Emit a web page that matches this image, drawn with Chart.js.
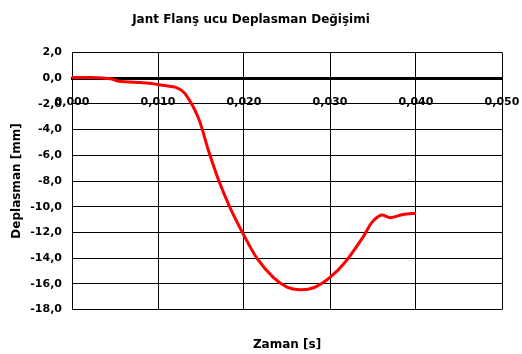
<!DOCTYPE html>
<html>
<head>
<meta charset="utf-8">
<script src="https://cdn.jsdelivr.net/npm/chart.js@4"></script>
<style>
  html, body { margin: 0; padding: 0; background: #fff; }
  #wrap { width: 522px; height: 354px; }
</style>
</head>
<body>
<div id="wrap"><canvas id="c" width="522" height="354"></canvas></div>
<script>
// values
const zaman = [0, 0.002, 0.0045, 0.0055, 0.008, 0.009, 0.010, 0.011, 0.012, 0.013, 0.0139, 0.0147, 0.0152, 0.0159, 0.0172, 0.0184, 0.0199, 0.0215, 0.0234, 0.025, 0.0265, 0.0281, 0.030, 0.0319, 0.0339, 0.0349, 0.0360, 0.0370, 0.0385, 0.040];
const deplasman = [0.05, 0.05, -0.05, -0.25, -0.35, -0.4, -0.5, -0.6, -0.7, -1.1, -2.0, -3.1, -4.1, -5.7, -8.2, -10.1, -12.1, -14.0, -15.5, -16.25, -16.45, -16.3, -15.5, -14.2, -12.3, -11.2, -10.65, -10.85, -10.6, -10.5];
const xTicks = [0, 0.01, 0.02, 0.03, 0.04, 0.05];
const yTicks = [2, 0, -2, -4, -6, -8, -10, -12, -14, -16, -18];

const FONT = 'DejaVu Sans';
const points = zaman.map((t, i) => ({ x: t, y: deplasman[i] }));

new Chart(document.getElementById('c'), {
  type: 'scatter',
  data: {
    datasets: [{
      data: points,
      showLine: true,
      borderColor: '#ff0000',
      borderWidth: 3,
      pointRadius: 0,
      tension: 0.3
    }]
  },
  options: {
    responsive: false,
    animation: false,
    layout: { padding: { left: 0, right: 20, top: 0, bottom: 0 } },
    plugins: {
      legend: { display: false },
      tooltip: { enabled: false },
      title: {
        display: true,
        text: 'Jant Flanş ucu Deplasman Değişimi',
        color: '#000',
        font: { family: FONT, size: 12, weight: 'bold' },
        padding: { top: 13, bottom: 25 }
      },
      subtitle: {
        display: true,
        position: 'bottom',
        fullSize: false,
        text: 'Zaman [s]',
        color: '#000',
        font: { family: FONT, size: 12, weight: 'bold' },
        padding: { top: 28, bottom: 2 }
      }
    },
    scales: {
      x: {
        type: 'linear',
        position: { y: 0 },
        min: 0,
        max: 0.05,
        afterBuildTicks: (s) => { s.ticks = xTicks.map(v => ({ value: v })); },
        afterFit: (s) => { s.paddingLeft = 0; s.paddingRight = 0; },
        ticks: {
          color: '#000',
          padding: 13,
          maxRotation: 0,
          font: { family: FONT, size: 11, weight: 'bold' },
          callback: (v) => v.toFixed(3).replace('.', ',')
        },
        grid: { color: '#000', lineWidth: 1, tickLength: 4 },
        border: { color: '#000', width: 3 }
      },
      y: {
        min: -18,
        max: 2,
        afterBuildTicks: (s) => { s.ticks = yTicks.map(v => ({ value: v })); },
        afterFit: (s) => { s.width = 72; },
        ticks: {
          color: '#000',
          padding: 10,
          font: { family: FONT, size: 11, weight: 'bold' },
          callback: (v) => v.toFixed(1).replace('.', ',')
        },
        grid: { color: '#000', lineWidth: 1, drawTicks: false },
        border: { color: '#000', width: 1 },
        title: {
          display: true,
          text: 'Deplasman [mm]',
          color: '#000',
          font: { family: FONT, size: 12, weight: 'bold' },
          padding: { top: 10, bottom: 0 }
        }
      }
    }
  }
});
</script>
</body>
</html>
